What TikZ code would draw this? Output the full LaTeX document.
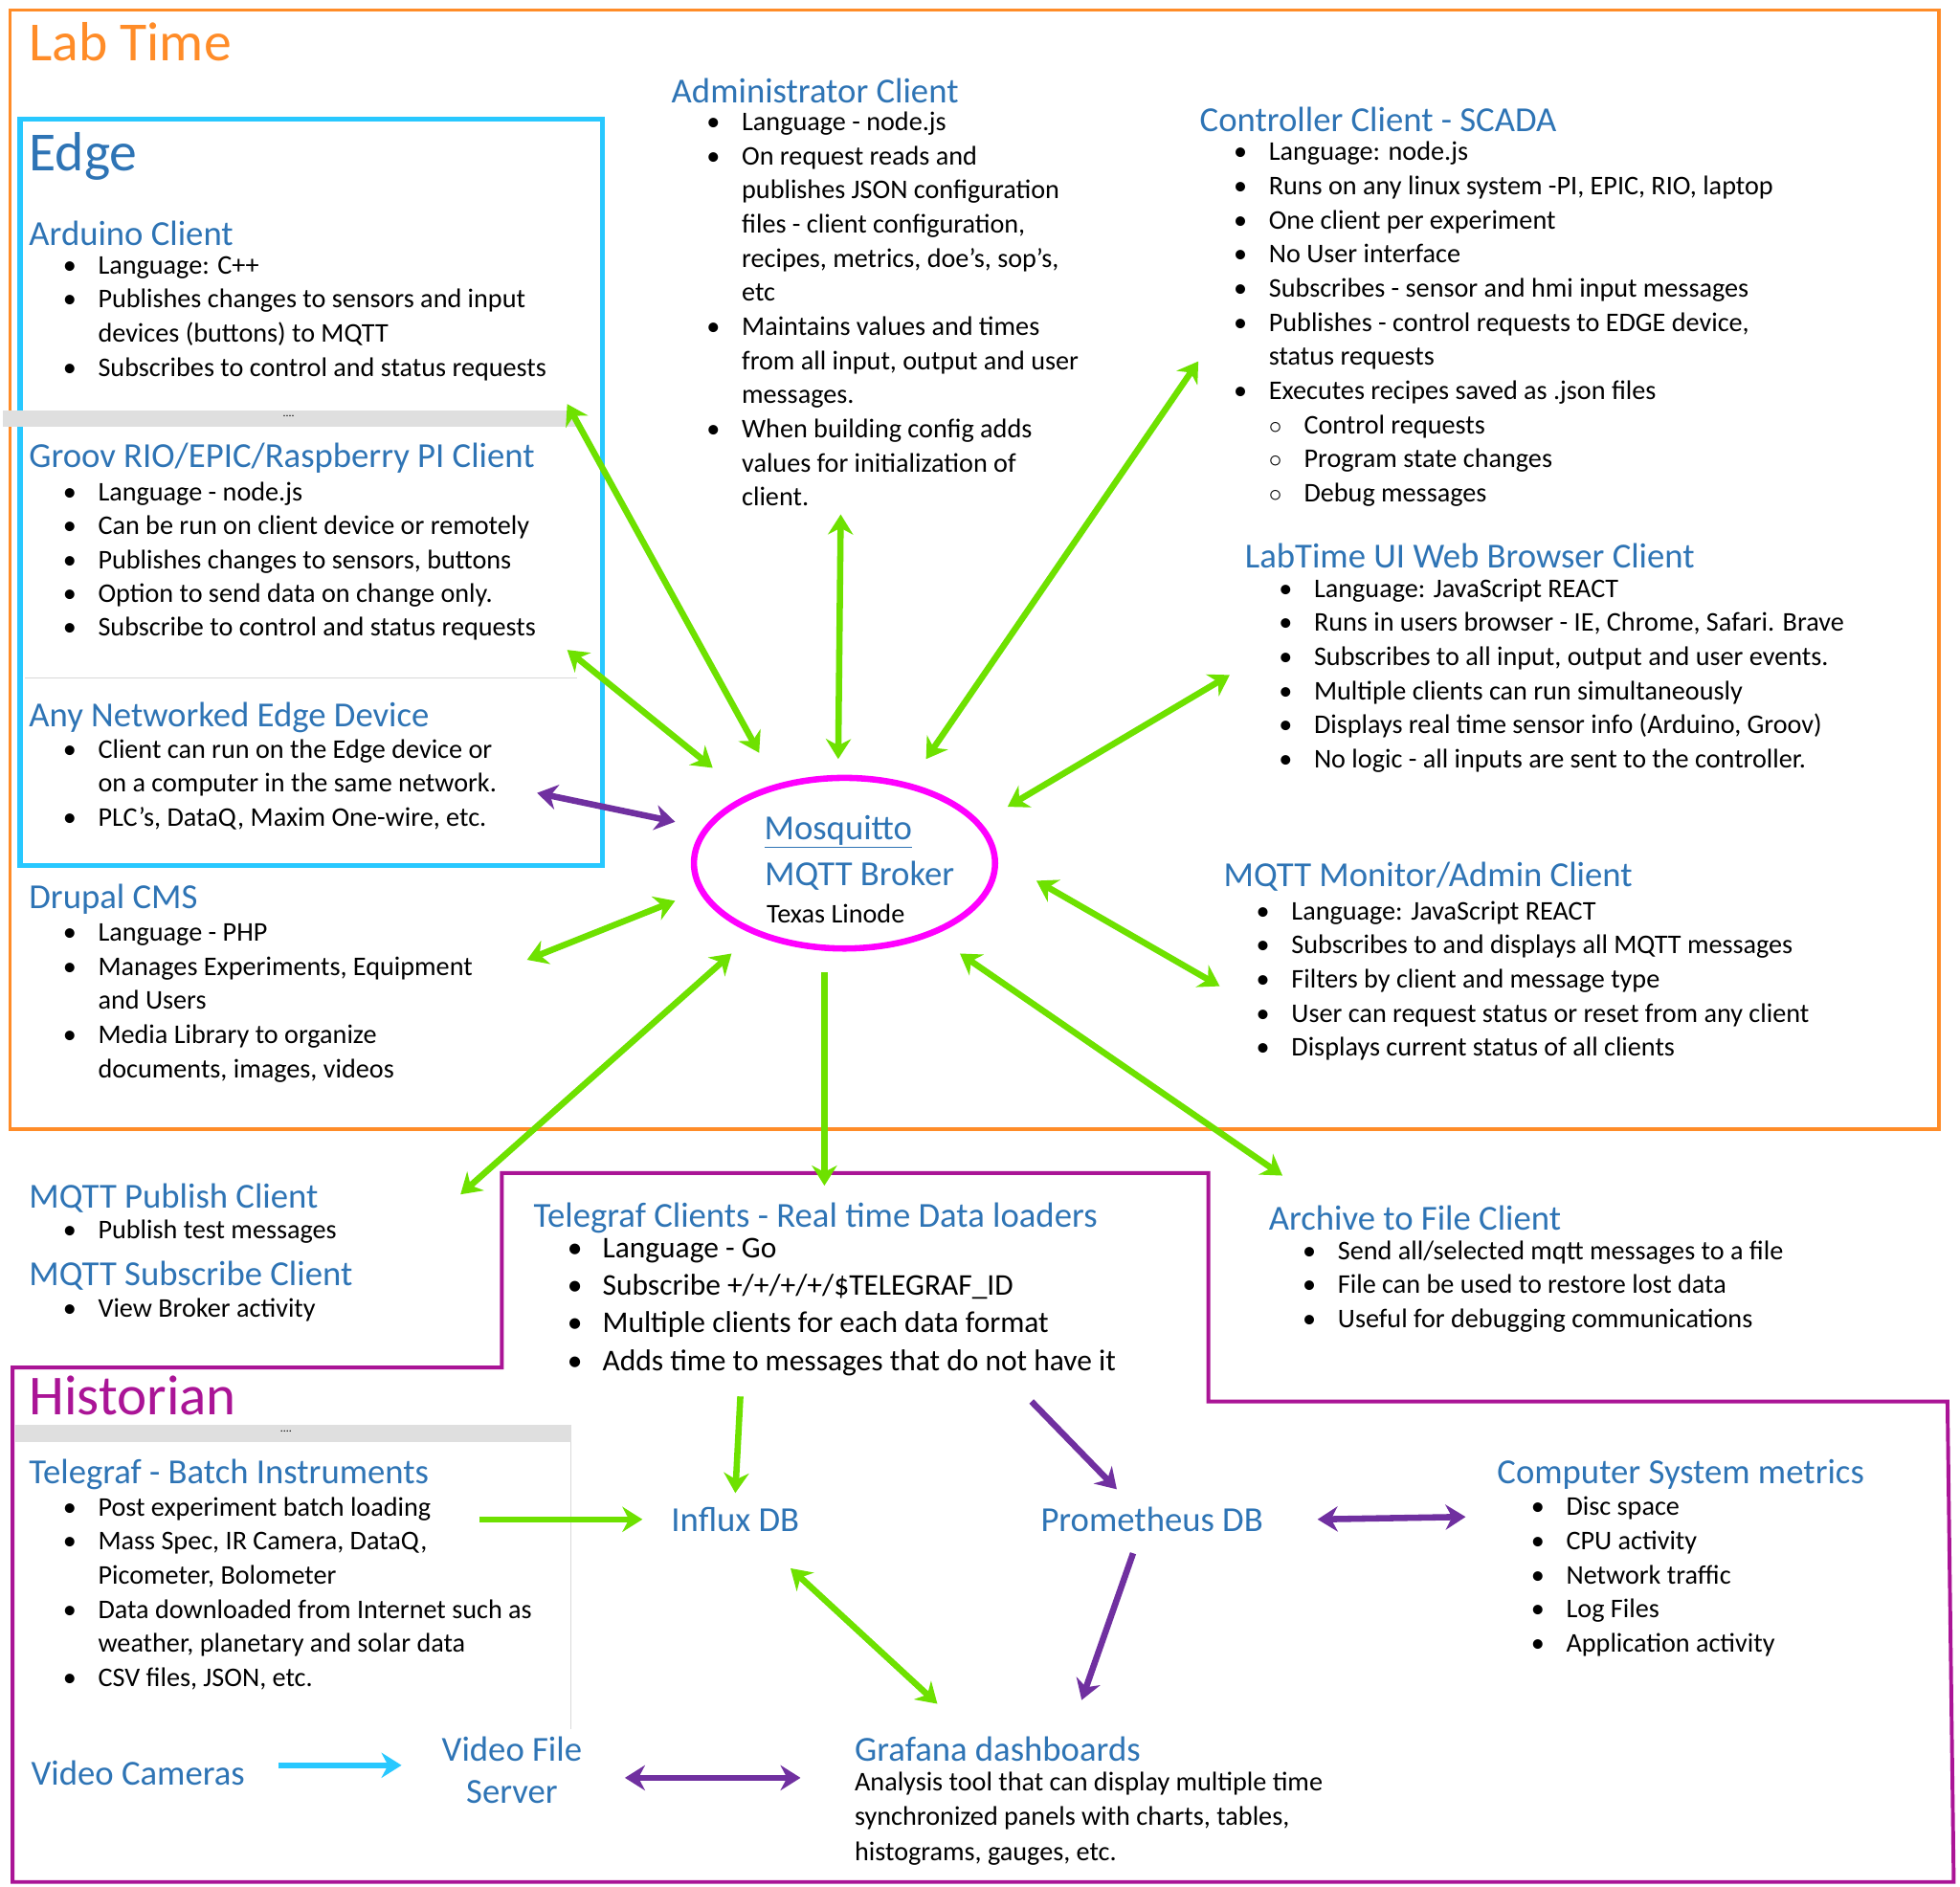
\documentclass[tikz,border=0pt]{standalone}
\usepackage{fontspec}
\setmainfont{Carlito}
\usetikzlibrary{arrows.meta,shapes.geometric}
\definecolor{hb}{RGB}{46,116,181}
\definecolor{og}{RGB}{255,140,40}
\definecolor{cy}{RGB}{40,200,255}
\definecolor{pu}{RGB}{170,20,150}
\definecolor{gr}{RGB}{110,225,0}
\definecolor{vi}{RGB}{112,48,160}
\definecolor{mg}{RGB}{255,0,255}
\newcommand\bu{\makebox[28pt][l]{\textbullet}}
\newcommand\ci{\makebox[28pt][l]{$\circ$}}
\newcommand\cn{\hspace*{28pt}}
\begin{document}
\begin{tikzpicture}[x=1pt,y=-1pt,
  hd/.style={anchor=west,inner sep=0,text=hb,font=\fontsize{28}{32}\selectfont},
  ls/.style={anchor=north west,inner sep=0,align=left,font=\fontsize{21.5}{27.2}\selectfont},
  ga/.style={draw=gr,line width=5pt,{Stealth[length=16pt,width=20pt]}-{Stealth[length=16pt,width=20pt]}},
  gs/.style={draw=gr,line width=5pt,-{Stealth[length=16pt,width=20pt]}},
  va/.style={draw=vi,line width=5pt,{Stealth[length=16pt,width=20pt]}-{Stealth[length=16pt,width=20pt]}},
  vs/.style={draw=vi,line width=5pt,-{Stealth[length=16pt,width=20pt]}},
  ca/.style={draw=cy,line width=5pt,-{Stealth[length=16pt,width=20pt]}}]
\useasboundingbox (0,0) rectangle (1562,1504);
\fill[white] (0,0) rectangle (1562,1504);
% frames
\draw[og,line width=3pt] (8,8) rectangle (1545,900);
\draw[cy,line width=4pt] (16,95) rectangle (480,690);
\draw[pu,line width=3pt] (10,1090) -- (400,1090) -- (400,935) -- (963,935) -- (963,1117) -- (1552,1117) -- (1557,1500) -- (10,1500) -- cycle;
\fill[gray!25] (2,327) rectangle (460,340);
\node[inner sep=0,font=\small] (d1) at (230,332) {....};
\draw[gray!30] (20,540) -- (460,540);
\fill[gray!25] (12,1136) rectangle (455,1149);
\node[inner sep=0,font=\small] (d2) at (228,1141) {....};
\draw[gray!30] (455,1149) -- (455,1378);
% titles
\node[anchor=west,inner sep=0,text=og,font=\fontsize{44}{48}\selectfont] (lab) at (23,33) {Lab Time};
\node[anchor=west,inner sep=0,text=hb,font=\fontsize{44}{48}\selectfont] (edge) at (23,125) {Edge};
\node[anchor=west,inner sep=0,text=pu,font=\fontsize{45}{48}\selectfont] (hist) at (23,1112) {Historian};
% sections
\node[hd] (ard) at (23,186) {Arduino Client};
\node[ls] (ardl) at (50,204) {\bu Language: C++\\ \bu Publishes changes to sensors and input\\ \cn devices (buttons) to MQTT\\ \bu Subscribes to control and status requests};
\node[hd] (gro) at (23,365) {Groov RIO/EPIC/Raspberry PI Client};
\node[ls,font=\fontsize{21.5}{27}\selectfont] (grol) at (50,384) {\bu Language - node.js\\ \bu Can be run on client device or remotely\\ \bu Publishes changes to sensors, buttons\\ \bu Option to send data on change only.\\ \bu Subscribe to control and status requests};
\node[hd] (any) at (23,572) {Any Networked Edge Device};
\node[ls] (anyl) at (50,589) {\bu Client can run on the Edge device or\\ \cn on a computer in the same network.\\ \bu PLC's, DataQ, Maxim One-wire, etc.};
\node[hd] (dru) at (23,717) {Drupal CMS};
\node[ls] (drul) at (50,736) {\bu Language - PHP\\ \bu Manages Experiments, Equipment\\ \cn and Users\\ \bu Media Library to organize\\ \cn documents, images, videos};
\node[hd] (adm) at (535,72) {Administrator Client};
\node[ls] (adml) at (563,89) {\bu Language - node.js\\ \bu On request reads and\\ \cn publishes JSON configuration\\ \cn files - client configuration,\\ \cn recipes, metrics, doe's, sop's,\\ \cn etc\\ \bu Maintains values and times\\ \cn from all input, output and user\\ \cn messages.\\ \bu When building config adds\\ \cn values for initialization of\\ \cn client.};
\node[hd] (con) at (956,95) {Controller Client - SCADA};
\node[ls] (conl) at (983,113) {\bu Language: node.js\\ \bu Runs on any linux system -PI, EPIC, RIO, laptop\\ \bu One client per experiment\\ \bu No User interface\\ \bu Subscribes - sensor and hmi input messages\\ \bu Publishes - control requests to EDGE device,\\ \cn status requests\\ \bu Executes recipes saved as .json files\\ \cn\ci Control requests\\ \cn\ci Program state changes\\ \cn\ci Debug messages};
\node[hd] (lt) at (992,443) {LabTime UI Web Browser Client};
\node[ls] (ltl) at (1019,461) {\bu Language: JavaScript REACT\\ \bu Runs in users browser - IE, Chrome, Safari. Brave\\ \bu Subscribes to all input, output and user events.\\ \bu Multiple clients can run simultaneously\\ \bu Displays real time sensor info (Arduino, Groov)\\ \bu No logic - all inputs are sent to the controller.};
\node[hd] (mon) at (975,699) {MQTT Monitor/Admin Client};
\node[ls] (monl) at (1001,718) {\bu Language: JavaScript REACT\\ \bu Subscribes to and displays all MQTT messages\\ \bu Filters by client and message type\\ \bu User can request status or reset from any client\\ \bu Displays current status of all clients};
\node[hd] (pub) at (23,955) {MQTT Publish Client};
\node[ls] (publ) at (50,972) {\bu Publish test messages};
\node[hd] (sub) at (23,1017) {MQTT Subscribe Client};
\node[ls] (subl) at (50,1035) {\bu View Broker activity};
\node[hd] (tel) at (425,971) {Telegraf Clients - Real time Data loaders};
\node[ls,font=\fontsize{24}{29.8}\selectfont] (tell) at (452,987) {\bu Language - Go\\ \bu Subscribe +/+/+/+/\$TELEGRAF\_ID\\ \bu Multiple clients for each data format\\ \bu Adds time to messages that do not have it};
\node[hd] (arc) at (1011,971) {Archive to File Client};
\node[ls,font=\fontsize{21.5}{27}\selectfont] (arcl) at (1038,989) {\bu Send all/selected mqtt messages to a file\\ \bu File can be used to restore lost data\\ \bu Useful for debugging communications};
\node[hd] (tb) at (23,1175) {Telegraf - Batch Instruments};
\node[ls] (tbl) at (50,1193) {\bu Post experiment batch loading\\ \bu Mass Spec, IR Camera, DataQ,\\ \cn Picometer, Bolometer\\ \bu Data downloaded from Internet such as\\ \cn weather, planetary and solar data\\ \bu CSV files, JSON, etc.};
\node[hd,anchor=center] (inf) at (586,1211) {Influx DB};
\node[hd,anchor=center] (pro) at (918,1211) {Prometheus DB};
\node[hd] (csm) at (1193,1175) {Computer System metrics};
\node[ls] (csml) at (1220,1193) {\bu Disc space\\ \bu CPU activity\\ \bu Network traffic\\ \bu Log Files\\ \bu Application activity};
\node[hd,anchor=center] (vc) at (110,1413) {Video Cameras};
\node[hd,anchor=center,align=center,font=\fontsize{28}{34}\selectfont] (vfs) at (408,1411) {Video File\\Server};
\node[hd] (gra) at (681,1394) {Grafana dashboards};
\node[ls,font=\fontsize{21.5}{28}\selectfont] (gral) at (681,1412) {Analysis tool that can display multiple time\\ synchronized panels with charts, tables,\\ histograms, gauges, etc.};
% broker
\node[draw=mg,line width=5pt,ellipse,minimum width=240pt,minimum height=136pt] (br) at (673,688) {};
\node[inner sep=0,text=hb,font=\fontsize{28}{32}\selectfont] (br1) at (668,663) {\underline{Mosquitto}};
\node[inner sep=0,text=hb,font=\fontsize{28}{32}\selectfont] (br2) at (685,698) {MQTT Broker};
\node[inner sep=0,font=\fontsize{21.5}{24}\selectfont] (br3) at (666,728) {Texas Linode};
% arrow endpoints
\foreach \n/\x/\y in {a1/452/322,a2/605/600,b1/452/518,b2/568/612,c1/428/632,c2/538/655,d1/420/765,d2/538/718,
 e1/670/410,e2/668/605,f1/955/288,f2/738/605,g1/980/538,g2/803/643,h1/826/702,h2/972/786,i1/583/760,i2/367/952,
 j1/657/775,j2/657/945,k1/765/760,k2/1022/937,l1/590/1113,l2/586/1190,m1/382/1211,m2/512/1211,n1/822/1117,n2/890/1187,
 o1/1050/1211,o2/1168/1209,p1/903/1238,p2/862/1355,q1/630/1250,q2/747/1358,r1/498/1417,r2/638/1417,s1/222/1407,s2/320/1407}
 \coordinate (\n) at (\x,\y);
\draw[ga] (a1) -- (a2);
\draw[ga] (b1) -- (b2);
\draw[va] (c1) -- (c2);
\draw[ga] (d1) -- (d2);
\draw[ga] (e1) -- (e2);
\draw[ga] (f1) -- (f2);
\draw[ga] (g1) -- (g2);
\draw[ga] (h1) -- (h2);
\draw[ga] (i1) -- (i2);
\draw[gs] (j1) -- (j2);
\draw[ga] (k1) -- (k2);
\draw[gs] (l1) -- (l2);
\draw[gs] (m1) -- (m2);
\draw[vs] (n1) -- (n2);
\draw[va] (o1) -- (o2);
\draw[vs] (p1) -- (p2);
\draw[ga] (q1) -- (q2);
\draw[va] (r1) -- (r2);
\draw[ca] (s1) -- (s2);
\end{tikzpicture}
\end{document}
